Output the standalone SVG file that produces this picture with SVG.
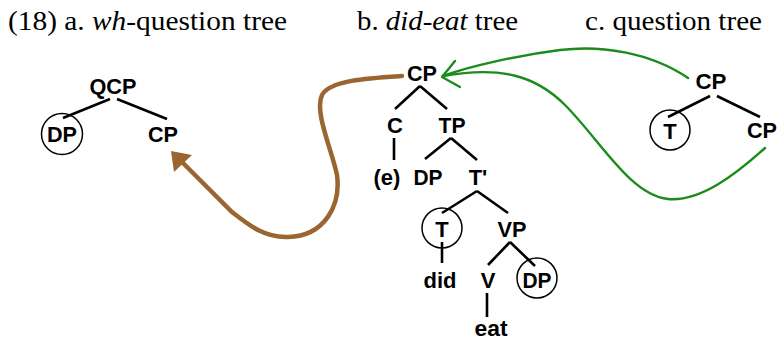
<svg xmlns="http://www.w3.org/2000/svg" width="778" height="342" viewBox="0 0 778 342">
<style>
.title{font-family:"Liberation Serif","Times New Roman",serif;font-size:27px;fill:#000}
.it{font-style:italic}
.lbl{font-family:"Liberation Sans",Arial,sans-serif;font-weight:bold;font-size:22px;fill:#000;text-anchor:middle}
.edge{stroke:#000;stroke-width:2.6;fill:none;stroke-linecap:butt}
.ring{stroke:#000;stroke-width:1.5;fill:none}
.brown{stroke:#9b6530;stroke-width:4.5;fill:none;stroke-linecap:round}
.green{stroke:#1a8c1a;stroke-width:2.4;fill:none;stroke-linecap:round;stroke-linejoin:round}
</style>
<rect width="778" height="342" fill="#fff"/>
<g id="titles">
<text class="title" x="8" y="30" textLength="279" lengthAdjust="spacingAndGlyphs">(18) a. <tspan class="it">wh</tspan>-question tree</text>
<text class="title" x="357" y="30" textLength="161" lengthAdjust="spacingAndGlyphs">b. <tspan class="it">did-eat</tspan> tree</text>
<text class="title" x="585" y="30" textLength="177" lengthAdjust="spacingAndGlyphs">c. question tree</text>
</g>
<g id="tree-edges">
<line class="edge" x1="110" y1="99" x2="63" y2="118"/>
<line class="edge" x1="117" y1="99" x2="167" y2="119"/>
<line class="edge" x1="420" y1="86" x2="395" y2="109"/>
<line class="edge" x1="420" y1="86" x2="447" y2="109"/>
<line class="edge" x1="394" y1="138" x2="394" y2="160"/>
<line class="edge" x1="451" y1="138" x2="425" y2="159"/>
<line class="edge" x1="451" y1="138" x2="477" y2="160"/>
<line class="edge" x1="477" y1="191" x2="442" y2="213"/>
<line class="edge" x1="477" y1="191" x2="508" y2="213"/>
<line class="edge" x1="442" y1="242" x2="442" y2="263"/>
<line class="edge" x1="510" y1="242" x2="488" y2="265"/>
<line class="edge" x1="510" y1="242" x2="535" y2="266"/>
<line class="edge" x1="487" y1="293" x2="487" y2="317"/>
<line class="edge" x1="710" y1="96" x2="668" y2="117"/>
<line class="edge" x1="717" y1="96" x2="760" y2="117"/>
</g>
<g id="node-a-QCP"><text class="lbl" x="113" y="94" textLength="47" lengthAdjust="spacingAndGlyphs">QCP</text></g>
<g id="node-a-DP"><circle class="ring" cx="62" cy="134" r="20.5"/><text class="lbl" x="62" y="142" textLength="30" lengthAdjust="spacingAndGlyphs">DP</text></g>
<g id="node-a-CP"><text class="lbl" x="163" y="142" textLength="30" lengthAdjust="spacingAndGlyphs">CP</text></g>
<g id="node-b-CP"><text class="lbl" x="422" y="81" textLength="30" lengthAdjust="spacingAndGlyphs">CP</text></g>
<g id="node-b-C"><text class="lbl" x="395" y="133">C</text></g>
<g id="node-b-TP"><text class="lbl" x="452" y="133" textLength="27" lengthAdjust="spacingAndGlyphs">TP</text></g>
<g id="node-b-e"><text class="lbl" x="387" y="185">(e)</text></g>
<g id="node-b-DP"><text class="lbl" x="428" y="185" textLength="29" lengthAdjust="spacingAndGlyphs">DP</text></g>
<g id="node-b-Tbar"><text class="lbl" x="478" y="185">T'</text></g>
<g id="node-b-T"><circle class="ring" cx="442" cy="228" r="20"/><text class="lbl" x="442" y="237">T</text></g>
<g id="node-b-VP"><text class="lbl" x="512" y="237" textLength="29" lengthAdjust="spacingAndGlyphs">VP</text></g>
<g id="node-b-did"><text class="lbl" x="440" y="288" textLength="33" lengthAdjust="spacingAndGlyphs">did</text></g>
<g id="node-b-V"><text class="lbl" x="488" y="288">V</text></g>
<g id="node-b-DP2"><circle class="ring" cx="537" cy="278" r="20"/><text class="lbl" x="537" y="288" textLength="29" lengthAdjust="spacingAndGlyphs">DP</text></g>
<g id="node-b-eat"><text class="lbl" x="491" y="336" textLength="33" lengthAdjust="spacingAndGlyphs">eat</text></g>
<g id="node-c-CP"><text class="lbl" x="711" y="89" textLength="31" lengthAdjust="spacingAndGlyphs">CP</text></g>
<g id="node-c-T"><circle class="ring" cx="670" cy="130" r="20"/><text class="lbl" x="670" y="139">T</text></g>
<g id="node-c-CP2"><text class="lbl" x="762" y="138" textLength="30" lengthAdjust="spacingAndGlyphs">CP</text></g>
<g id="connectors">
<path class="brown" d="M402,76 C370,78 330,80 322,95 C314,112 332,150 337,175 C341,205 325,236 288,237 C265,238 250,226 232,212 L181,161"/>
<polygon points="171,151 174,172 192,155" fill="#9b6530"/>
<path class="green" d="M688,78 C650,52 600,45 560,50 C520,55 470,66 443,76"/>
<path class="green" d="M443,76 C500,66 535,75 565,105 C600,140 630,195 668,199 C700,202 735,175 765,148"/>
<polyline class="green" points="455,61 442,77 460,87"/>
</g>
</svg>
